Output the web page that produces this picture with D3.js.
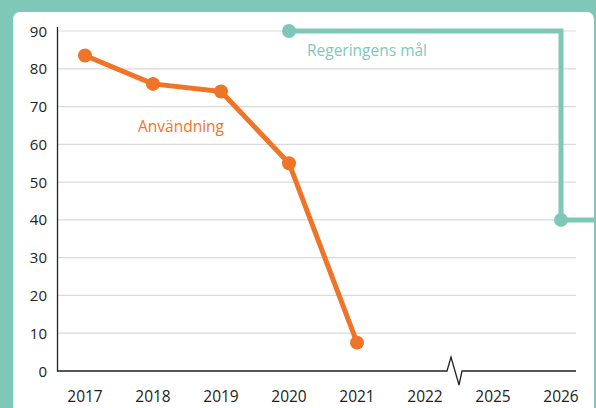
<!DOCTYPE html>
<html>
<head>
<meta charset="utf-8">
<script src="https://cdn.jsdelivr.net/npm/d3@7"></script>
<style>
  body { margin: 0; background: #7fc8b8; }
  svg { display: block; font-family: "Open Sans", "Liberation Sans", sans-serif; }
</style>
</head>
<body>
<div id="chart"></div>
<script>
const years = ["2017", "2018", "2019", "2020", "2021", "2022", "2025", "2026"];
const useYears = ["2017", "2018", "2019", "2020", "2021"];
const useValues = [83.5, 76, 74, 55, 7.5];
const goalYears = ["2020", "2026"];
const goalValues = [90, 40];
const yTicks = [0, 10, 20, 30, 40, 50, 60, 70, 80, 90];

const width = 596, height = 408;
const orange = "#f07428", teal = "#7fc8b8";

const svg = d3.select("#chart").append("svg")
    .attr("width", width)
    .attr("height", height);

// white panel
svg.append("rect")
    .attr("x", 13).attr("y", 12)
    .attr("width", 581).attr("height", 420)
    .attr("rx", 7)
    .attr("fill", "#fff");

let x = d3.scalePoint()
    .domain(years)
    .range([85, 561]);

let y = d3.scaleLinear()
    .domain([0, 90])
    .range([371, 31]);

// gridlines
svg.append("g")
    .selectAll("line")
    .data(yTicks.filter(d => d > 0))
    .enter()
    .append("line")
    .attr("x1", 57).attr("x2", 576)
    .attr("y1", d => y(d)).attr("y2", d => y(d))
    .attr("stroke", "#d9d9d9")
    .attr("stroke-width", 1.2);

// y axis
svg.append("line")
    .attr("x1", 57.5).attr("x2", 57.5)
    .attr("y1", 27).attr("y2", y(0) + 0.5)
    .attr("stroke", "#222").attr("stroke-width", 1.3);

svg.append("g")
    .selectAll("text")
    .data(yTicks)
    .enter()
    .append("text")
    .attr("x", 47)
    .attr("y", d => y(d) + 5.5)
    .attr("text-anchor", "end")
    .attr("font-size", 15)
    .attr("fill", "#222")
    .text(d => d);

// x axis with break between 2022 and 2025
const bx = (x("2022") + x("2025")) / 2;
svg.append("path")
    .attr("d", `M57,${y(0)} H${bx - 12} L${bx - 8},${y(0) - 14} L${bx},${y(0) + 14} L${bx + 3},${y(0)} H576`)
    .attr("fill", "none")
    .attr("stroke", "#222")
    .attr("stroke-width", 1.3);

svg.append("g")
    .selectAll("text")
    .data(years)
    .enter()
    .append("text")
    .attr("x", d => x(d))
    .attr("y", 402)
    .attr("text-anchor", "middle")
    .attr("font-size", 15.5)
    .attr("fill", "#222")
    .text(d => d);

// goal line
const gx0 = x(goalYears[0]), gx1 = x(goalYears[1]);
svg.append("path")
    .attr("d", `M${gx0},${y(goalValues[0])} H${gx1} V${y(goalValues[1])} H${width}`)
    .attr("fill", "none")
    .attr("stroke", teal)
    .attr("stroke-width", 5);

svg.append("g")
    .selectAll("circle")
    .data(goalYears)
    .enter()
    .append("circle")
    .attr("cx", d => x(d))
    .attr("cy", (d, i) => y(goalValues[i]))
    .attr("r", 7)
    .attr("fill", teal);

// usage line
const line = d3.line()
    .x((d, i) => x(useYears[i]))
    .y(d => y(d));

svg.append("path")
    .datum(useValues)
    .attr("d", line)
    .attr("fill", "none")
    .attr("stroke", orange)
    .attr("stroke-width", 5)
    .attr("stroke-linejoin", "round");

svg.append("g")
    .selectAll("circle")
    .data(useValues)
    .enter()
    .append("circle")
    .attr("cx", (d, i) => x(useYears[i]))
    .attr("cy", d => y(d))
    .attr("r", 7)
    .attr("fill", orange);

// labels
svg.append("text")
    .attr("x", 181).attr("y", 132)
    .attr("text-anchor", "middle")
    .attr("font-size", 15.5)
    .attr("fill", orange)
    .text("Användning");

svg.append("text")
    .attr("x", 367).attr("y", 56)
    .attr("text-anchor", "middle")
    .attr("font-size", 15.5)
    .attr("fill", teal)
    .text("Regeringens mål");
</script>
</body>
</html>
